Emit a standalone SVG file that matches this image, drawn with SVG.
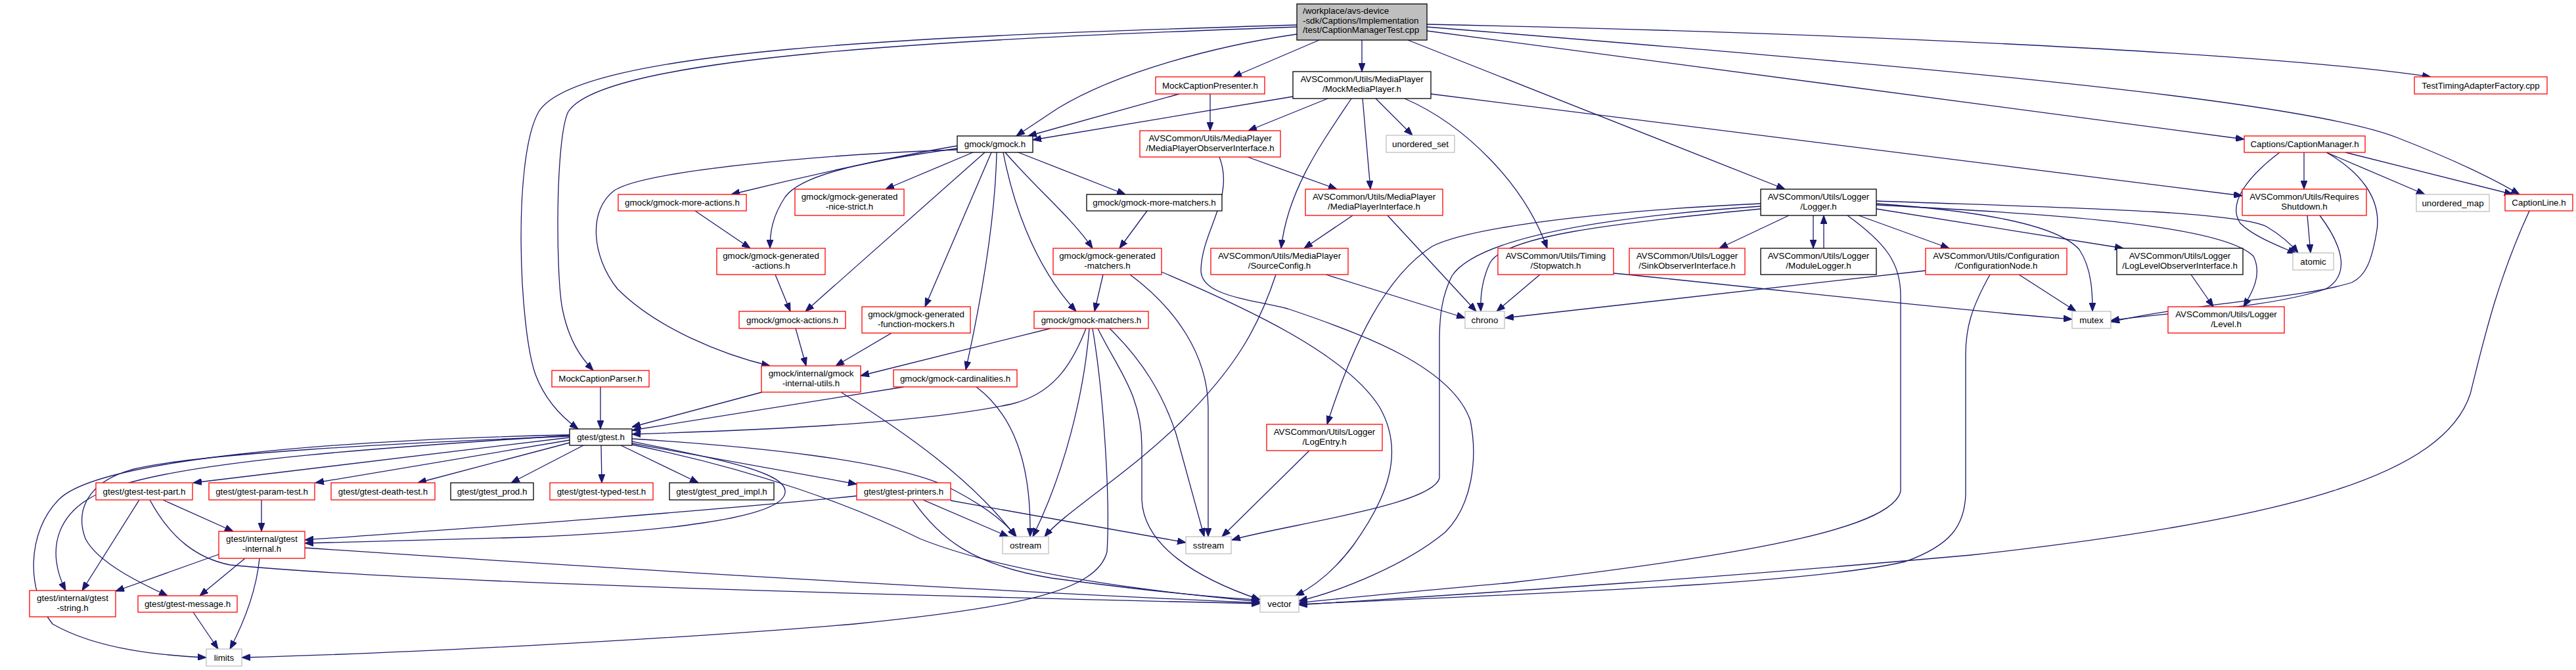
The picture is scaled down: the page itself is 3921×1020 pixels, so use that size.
<svg xmlns="http://www.w3.org/2000/svg" width="3921" height="1020" viewBox="0 0 3921 1020">
<style>
rect{fill:#fff;stroke-width:1.3}
.r{stroke:#ff0000}
.b{stroke:#000}
.g{stroke:#bfbfbf}
text{font-family:"Liberation Sans",Arial,sans-serif;font-size:13.33px;fill:#000;text-anchor:middle}
text.l{text-anchor:start}
#edges path{fill:none;stroke:#191970;stroke-width:1.3;marker-end:url(#a)}
</style>
<defs>
<marker id="a" viewBox="0 0 13 10" refX="13" refY="5" markerWidth="13" markerHeight="10" orient="auto" markerUnits="userSpaceOnUse">
<path d="M0,0 L13,5 L0,10 z" fill="#191970" stroke="#191970" stroke-width="1"/>
</marker>
</defs>
<rect x="0" y="0" width="3921" height="1020" style="fill:#fff;stroke:none"/>
<g id="edges">
<path d="M1974,38 C1400,55 880,75 820,170 C780,240 790,500 815,570 C830,610 855,635 880,653"/>
<path d="M1974,41 C1450,60 920,85 865,170 C845,210 846,420 856,470 C866,520 885,545 903,564"/>
<path d="M1974,52 C1850,70 1700,110 1610,165 C1580,185 1560,198 1547,207"/>
<path d="M2008,61 L1877,117"/>
<path d="M2073,61 L2073,109"/>
<path d="M2143,61 L2717,288"/>
<path d="M2172,47 L3416,212"/>
<path d="M2172,37 C2800,50 3450,80 3700,117"/>
<path d="M2172,41 C2900,100 3500,150 3650,210 C3740,245 3800,275 3835,296"/>
<path d="M1795,143 L1565,207"/>
<path d="M1842,143 L1842,199"/>
<path d="M1968,147 L1572,213"/>
<path d="M2021,150 L1900,199"/>
<path d="M2057,150 C2010,220 1960,290 1950,378"/>
<path d="M2074,150 L2086,288"/>
<path d="M2094,150 L2150,206"/>
<path d="M2138,150 C2230,190 2320,280 2355,378"/>
<path d="M2178,143 L3413,298"/>
<path d="M1899,239 L2035,288"/>
<path d="M1856,239 C1880,300 1830,350 1828,410 C1826,450 1900,455 1960,470 C2080,510 2210,560 2238,640 C2250,700 2240,770 2200,810 C2140,860 2040,900 1977,915"/>
<path d="M2059,328 L1985,378"/>
<path d="M2112,328 L2247,474"/>
<path d="M2018,418 L2230,484"/>
<path d="M1942,418 C1915,500 1880,560 1800,640 C1720,720 1620,780 1590,817"/>
<path d="M1457,222 C1380,235 1250,262 1113,296"/>
<path d="M1481,232 L1348,288"/>
<path d="M1457,226 C1320,245 1220,265 1195,300 C1175,330 1172,355 1172,378"/>
<path d="M1457,228 C1250,235 980,260 935,290 C895,320 900,390 940,440 C1000,500 1100,540 1172,557"/>
<path d="M1499,232 L1226,474"/>
<path d="M1509,232 L1408,467"/>
<path d="M1517,232 C1515,330 1495,450 1470,563"/>
<path d="M1527,232 C1540,300 1570,400 1638,474"/>
<path d="M1530,232 C1580,290 1630,330 1663,378"/>
<path d="M1550,232 L1713,296"/>
<path d="M1058,321 L1142,378"/>
<path d="M1746,321 L1704,378"/>
<path d="M1180,418 L1203,474"/>
<path d="M1211,500 L1227,557"/>
<path d="M1357,507 L1272,557"/>
<path d="M1679,418 L1666,474"/>
<path d="M1720,418 C1790,470 1838,540 1839,620 L1839,817"/>
<path d="M1768,414 C1900,470 2050,540 2100,620 C2140,690 2110,760 2060,830 C2030,870 2000,893 1972,907"/>
<path d="M1599,500 L1310,572"/>
<path d="M1653,500 C1630,560 1600,600 1540,615 C1400,645 1150,655 962,661"/>
<path d="M1658,500 C1650,600 1620,720 1572,817"/>
<path d="M1663,500 C1680,600 1690,760 1685,840 C1670,900 1550,925 1300,950 C1000,975 600,995 368,1001"/>
<path d="M1671,500 C1700,560 1738,600 1738,680 L1738,760 C1740,830 1820,880 1918,913"/>
<path d="M1689,500 C1740,550 1770,600 1790,660 L1833,817"/>
<path d="M1376,589 L962,655"/>
<path d="M1486,589 C1540,630 1570,700 1568,817"/>
<path d="M1160,597 L962,650"/>
<path d="M1280,597 C1380,660 1480,730 1546,817"/>
<path d="M914,589 L914,653"/>
<path d="M1993,686 L1860,817"/>
<path d="M2680,318 C2450,340 2290,360 2268,400 C2256,425 2253,450 2254,474"/>
<path d="M2723,328 L2617,378"/>
<path d="M2760,328 L2760,378"/>
<path d="M2776,378 L2776,328"/>
<path d="M2812,328 C2870,370 2893,400 2893,450 L2893,748 C2880,800 2700,840 2300,887 C2100,905 2000,915 1977,918"/>
<path d="M2829,328 L2967,378"/>
<path d="M2856,318 L3232,378"/>
<path d="M2856,312 C3100,325 3380,340 3430,390 C3445,420 3425,450 3415,467"/>
<path d="M2856,310 C3000,320 3130,340 3165,380 C3185,410 3185,450 3185,474"/>
<path d="M2856,306 C3100,315 3400,320 3450,345 C3475,360 3490,375 3498,385"/>
<path d="M2680,310 C2500,318 2250,340 2180,375 C2110,420 2060,520 2020,646"/>
<path d="M2680,314 C2450,330 2250,360 2210,420 C2195,450 2191,480 2191,520 L2191,728 C2180,770 1950,800 1875,822"/>
<path d="M2344,418 L2278,474"/>
<path d="M2456,416 C2700,440 2950,470 3154,486"/>
<path d="M2931,412 L2291,484"/>
<path d="M3073,418 L3160,474"/>
<path d="M3029,418 C3000,470 2992,500 2992,540 L2992,753 C2990,800 2970,830 2900,855 C2750,890 2300,905 1977,920"/>
<path d="M3335,418 L3369,467"/>
<path d="M3507,232 L3507,288"/>
<path d="M3470,232 C3420,270 3390,310 3410,340 C3430,360 3470,375 3495,386"/>
<path d="M3541,232 L3691,296"/>
<path d="M3570,232 L3825,296"/>
<path d="M3541,232 C3590,260 3625,300 3618,350 C3610,400 3600,420 3580,430 C3500,455 3350,460 3213,490"/>
<path d="M3512,328 L3517,385"/>
<path d="M3531,328 C3570,380 3575,420 3540,440 C3450,470 3300,475 3213,488"/>
<path d="M3850,321 C3800,430 3780,520 3760,600 C3720,720 3500,790 3000,845 C2500,890 2100,912 1977,921"/>
<path d="M867,666 L294,735"/>
<path d="M867,670 L480,735"/>
<path d="M867,674 L636,735"/>
<path d="M888,678 L778,735"/>
<path d="M915,678 L916,735"/>
<path d="M945,678 L1063,735"/>
<path d="M962,675 L1304,737"/>
<path d="M962,668 C1150,680 1350,700 1440,740 C1500,770 1530,795 1547,817"/>
<path d="M962,672 C1100,700 1200,720 1195,750 C1190,790 1000,810 800,818 C650,823 520,825 464,827"/>
<path d="M962,677 C1150,715 1300,770 1400,820 C1550,880 1800,905 1918,916"/>
<path d="M867,663 C600,680 300,700 180,740 C80,770 70,840 100,899"/>
<path d="M867,664 C600,675 300,690 200,715 C130,735 115,780 130,820 C150,860 230,895 255,907"/>
<path d="M867,662 C500,670 150,700 90,760 C40,810 40,900 80,950 C150,990 250,998 314,1001"/>
<path d="M212,761 L125,899"/>
<path d="M248,761 L355,809"/>
<path d="M228,761 C260,820 300,850 350,860 C600,885 1300,905 1918,919"/>
<path d="M398,761 L398,809"/>
<path d="M1304,755 C1000,785 700,805 464,822"/>
<path d="M1405,761 L1535,817"/>
<path d="M1389,761 C1430,820 1480,860 1600,880 C1750,900 1850,910 1918,913"/>
<path d="M1447,762 L1805,826"/>
<path d="M333,844 L176,900"/>
<path d="M373,850 L304,907"/>
<path d="M395,850 C390,900 370,950 350,988"/>
<path d="M464,834 C700,850 1300,890 1918,918"/>
<path d="M294,932 L332,988"/>
</g>
<g id="n_root"><rect x="1974" y="6" width="198" height="55" style="fill:#bfbfbf" class="b"/><text class="l" x="1983" y="21">/workplace/avs-device</text><text class="l" x="1983" y="35.5">-sdk/Captions/Implementation</text><text class="l" x="1983" y="50">/test/CaptionManagerTest.cpp</text></g>
<g id="n_mcpres"><rect class="r" x="1759" y="117" width="166" height="26"/><text x="1842" y="134.5">MockCaptionPresenter.h</text></g>
<g id="n_mmp"><rect class="b" x="1968" y="109" width="210" height="41"/><text x="2073" y="125">AVSCommon/Utils/MediaPlayer</text><text x="2073" y="139.5">/MockMediaPlayer.h</text></g>
<g id="n_ttaf"><rect class="r" x="3675" y="117" width="202" height="26"/><text x="3776" y="134.5">TestTimingAdapterFactory.cpp</text></g>
<g id="n_gmock"><rect class="b" x="1457" y="207" width="115" height="25"/><text x="1514.5" y="224">gmock/gmock.h</text></g>
<g id="n_mpobs"><rect class="r" x="1735" y="199" width="214" height="40"/><text x="1842" y="215">AVSCommon/Utils/MediaPlayer</text><text x="1842" y="229.5">/MediaPlayerObserverInterface.h</text></g>
<g id="n_uset"><rect class="g" x="2110" y="206" width="104" height="26"/><text x="2162" y="223.5">unordered_set</text></g>
<g id="n_capmgr"><rect class="r" x="3416" y="207" width="184" height="25"/><text x="3508" y="224">Captions/CaptionManager.h</text></g>
<g id="n_moreact"><rect class="r" x="941" y="296" width="195" height="25"/><text x="1038.5" y="313">gmock/gmock-more-actions.h</text></g>
<g id="n_nice"><rect class="r" x="1210" y="288" width="166" height="40"/><text x="1293" y="304">gmock/gmock-generated</text><text x="1293" y="318.5">-nice-strict.h</text></g>
<g id="n_moremat"><rect class="b" x="1654" y="296" width="206" height="25"/><text x="1757" y="313">gmock/gmock-more-matchers.h</text></g>
<g id="n_mpi"><rect class="r" x="1987" y="288" width="209" height="40"/><text x="2091.5" y="304">AVSCommon/Utils/MediaPlayer</text><text x="2091.5" y="318.5">/MediaPlayerInterface.h</text></g>
<g id="n_logger"><rect class="b" x="2680" y="288" width="176" height="40"/><text x="2768" y="304">AVSCommon/Utils/Logger</text><text x="2768" y="318.5">/Logger.h</text></g>
<g id="n_reqsd"><rect class="r" x="3413" y="288" width="189" height="40"/><text x="3507.5" y="304">AVSCommon/Utils/Requires</text><text x="3507.5" y="318.5">Shutdown.h</text></g>
<g id="n_umap"><rect class="g" x="3678" y="296" width="111" height="26"/><text x="3733.5" y="313.5">unordered_map</text></g>
<g id="n_capline"><rect class="r" x="3813" y="296" width="103" height="25"/><text x="3864.5" y="313">CaptionLine.h</text></g>
<g id="n_genact"><rect class="r" x="1091" y="378" width="165" height="40"/><text x="1173.5" y="394">gmock/gmock-generated</text><text x="1173.5" y="408.5">-actions.h</text></g>
<g id="n_genmat"><rect class="r" x="1603" y="378" width="165" height="40"/><text x="1685.5" y="394">gmock/gmock-generated</text><text x="1685.5" y="408.5">-matchers.h</text></g>
<g id="n_srccfg"><rect class="r" x="1843" y="378" width="209" height="40"/><text x="1947.5" y="394">AVSCommon/Utils/MediaPlayer</text><text x="1947.5" y="408.5">/SourceConfig.h</text></g>
<g id="n_stopw"><rect class="r" x="2280" y="378" width="176" height="40"/><text x="2368" y="394">AVSCommon/Utils/Timing</text><text x="2368" y="408.5">/Stopwatch.h</text></g>
<g id="n_sink"><rect class="r" x="2480" y="378" width="176" height="40"/><text x="2568" y="394">AVSCommon/Utils/Logger</text><text x="2568" y="408.5">/SinkObserverInterface.h</text></g>
<g id="n_modlog"><rect class="b" x="2680" y="378" width="176" height="40"/><text x="2768" y="394">AVSCommon/Utils/Logger</text><text x="2768" y="408.5">/ModuleLogger.h</text></g>
<g id="n_cfgnode"><rect class="r" x="2931" y="378" width="215" height="40"/><text x="3038.5" y="394">AVSCommon/Utils/Configuration</text><text x="3038.5" y="408.5">/ConfigurationNode.h</text></g>
<g id="n_lvlobs"><rect class="b" x="3222" y="378" width="192" height="40"/><text x="3318" y="394">AVSCommon/Utils/Logger</text><text x="3318" y="408.5">/LogLevelObserverInterface.h</text></g>
<g id="n_atomic"><rect class="g" x="3490" y="385" width="62" height="26"/><text x="3521" y="402.5">atomic</text></g>
<g id="n_gmact"><rect class="r" x="1125" y="474" width="162" height="26"/><text x="1206" y="491.5">gmock/gmock-actions.h</text></g>
<g id="n_funcmock"><rect class="r" x="1312" y="467" width="165" height="40"/><text x="1394.5" y="483">gmock/gmock-generated</text><text x="1394.5" y="497.5">-function-mockers.h</text></g>
<g id="n_gmmat"><rect class="r" x="1574" y="474" width="174" height="26"/><text x="1661" y="491.5">gmock/gmock-matchers.h</text></g>
<g id="n_chrono"><rect class="g" x="2230" y="474" width="60" height="26"/><text x="2260" y="491.5">chrono</text></g>
<g id="n_mutex"><rect class="g" x="3154" y="474" width="59" height="26"/><text x="3183.5" y="491.5">mutex</text></g>
<g id="n_level"><rect class="r" x="3300" y="467" width="177" height="40"/><text x="3388.5" y="483">AVSCommon/Utils/Logger</text><text x="3388.5" y="497.5">/Level.h</text></g>
<g id="n_intutils"><rect class="r" x="1159" y="557" width="151" height="40"/><text x="1234.5" y="573">gmock/internal/gmock</text><text x="1234.5" y="587.5">-internal-utils.h</text></g>
<g id="n_card"><rect class="r" x="1360" y="563" width="188" height="26"/><text x="1454" y="580.5">gmock/gmock-cardinalities.h</text></g>
<g id="n_mcparser"><rect class="r" x="840" y="564" width="148" height="25"/><text x="914" y="581">MockCaptionParser.h</text></g>
<g id="n_logentry"><rect class="r" x="1928" y="646" width="176" height="40"/><text x="2016" y="662">AVSCommon/Utils/Logger</text><text x="2016" y="676.5">/LogEntry.h</text></g>
<g id="n_gtest"><rect class="b" x="867" y="653" width="95" height="25"/><text x="914.5" y="670">gtest/gtest.h</text></g>
<g id="n_testpart"><rect class="r" x="146" y="735" width="147" height="26"/><text x="219.5" y="752.5">gtest/gtest-test-part.h</text></g>
<g id="n_param"><rect class="r" x="318" y="735" width="161" height="26"/><text x="398.5" y="752.5">gtest/gtest-param-test.h</text></g>
<g id="n_death"><rect class="r" x="504" y="735" width="158" height="26"/><text x="583" y="752.5">gtest/gtest-death-test.h</text></g>
<g id="n_prod"><rect class="b" x="686" y="735" width="126" height="26"/><text x="749" y="752.5">gtest/gtest_prod.h</text></g>
<g id="n_typed"><rect class="r" x="837" y="735" width="157" height="26"/><text x="915.5" y="752.5">gtest/gtest-typed-test.h</text></g>
<g id="n_pred"><rect class="b" x="1019" y="735" width="159" height="26"/><text x="1098.5" y="752.5">gtest/gtest_pred_impl.h</text></g>
<g id="n_printers"><rect class="r" x="1304" y="735" width="143" height="26"/><text x="1375.5" y="752.5">gtest/gtest-printers.h</text></g>
<g id="n_gtint"><rect class="r" x="333" y="809" width="131" height="41"/><text x="398.5" y="825">gtest/internal/gtest</text><text x="398.5" y="839.5">-internal.h</text></g>
<g id="n_ostream"><rect class="g" x="1526" y="817" width="70" height="26"/><text x="1561" y="834.5">ostream</text></g>
<g id="n_sstream"><rect class="g" x="1805" y="817" width="69" height="26"/><text x="1839.5" y="834.5">sstream</text></g>
<g id="n_gtstr"><rect class="r" x="45" y="899" width="131" height="40"/><text x="110.5" y="915">gtest/internal/gtest</text><text x="110.5" y="929.5">-string.h</text></g>
<g id="n_msg"><rect class="r" x="210" y="907" width="151" height="25"/><text x="285.5" y="924">gtest/gtest-message.h</text></g>
<g id="n_vector"><rect class="g" x="1918" y="907" width="59" height="25"/><text x="1947.5" y="924">vector</text></g>
<g id="n_limits"><rect class="g" x="314" y="988" width="54" height="26"/><text x="341" y="1005.5">limits</text></g>
</svg>
